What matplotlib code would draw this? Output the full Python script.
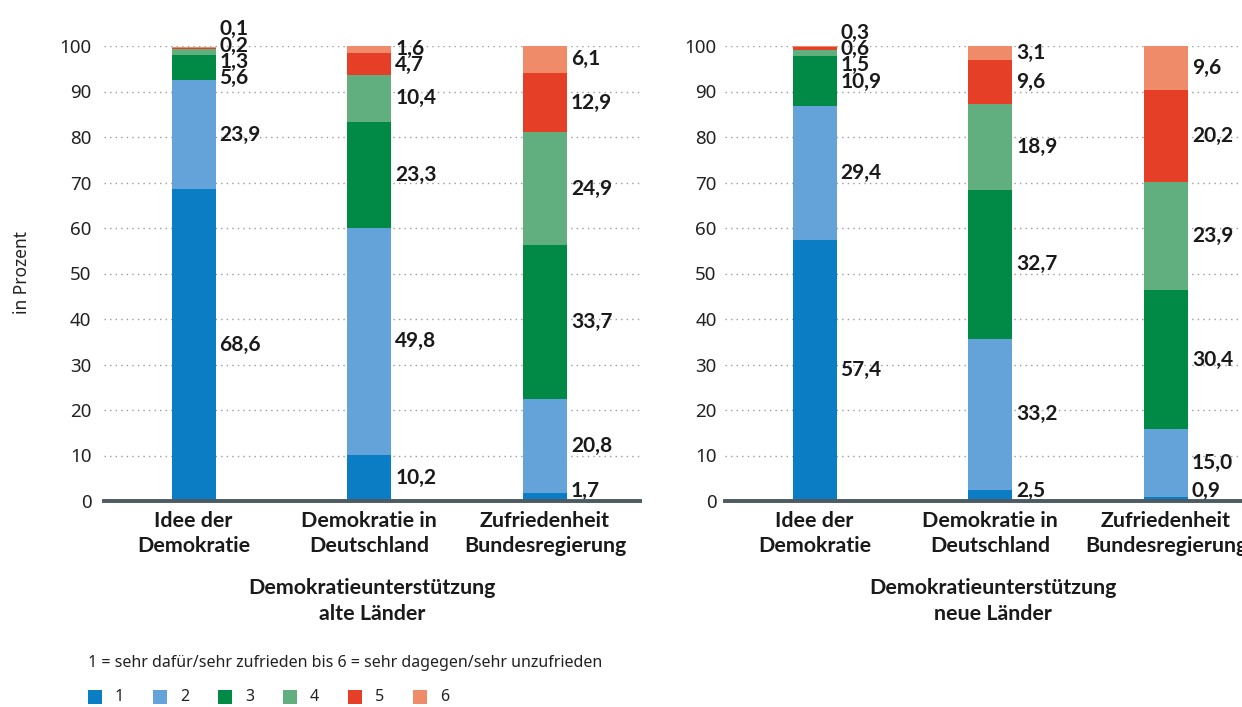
import matplotlib
matplotlib.use("Agg")
import matplotlib.pyplot as plt
from matplotlib.patches import Rectangle

plt.rcParams['font.family'] = ['Noto Sans', 'DejaVu Sans']
BOLD_FAM = ['Lato', 'DejaVu Sans']

# ---------------- data ----------------
categories = ["Idee der\nDemokratie", "Demokratie in\nDeutschland", "Zufriedenheit\nBundesregierung"]
levels = ["1", "2", "3", "4", "5", "6"]
colors = ["#0a7dc4", "#63a3d9", "#008a45", "#61ae7f", "#e54027", "#ef8b69"]

# shares per category, levels 1..6 (bottom to top)
alt_idee = [68.6, 23.9, 5.6, 1.3, 0.2, 0.1]
alt_demokratie = [10.2, 49.8, 23.3, 10.4, 4.7, 1.6]
alt_zufriedenheit = [1.7, 20.8, 33.7, 24.9, 12.9, 6.1]
neu_idee = [57.4, 29.4, 10.9, 1.5, 0.6, 0.3]
neu_demokratie = [2.5, 33.2, 32.7, 18.9, 9.6, 3.1]
neu_zufriedenheit = [0.9, 15.0, 30.4, 23.9, 20.2, 9.6]

panel_titles = ["Demokratieunterstützung\nalte Länder", "Demokratieunterstützung\nneue Länder"]
yticks = list(range(0, 101, 10))
caption = "1 = sehr dafür/sehr zufrieden bis 6 = sehr dagegen/sehr unzufrieden"

panels = [[alt_idee, alt_demokratie, alt_zufriedenheit],
          [neu_idee, neu_demokratie, neu_zufriedenheit]]

W, H = 1242, 707
fig = plt.figure(figsize=(W / 100, H / 100), dpi=100)

TXT = "#1a1a1a"
BAR_W = 0.25


def label_positions(vals, gap=3.6, floor=2.3):
    bottoms = []
    acc = 0.0
    for v in vals:
        bottoms.append(acc)
        acc += v
    targets = [max(b + v / 2, floor) for b, v in zip(bottoms, vals)]
    groups = [[t, 1, [i]] for i, t in enumerate(targets)]  # mean, count, idx
    changed = True
    while changed:
        changed = False
        for k in range(len(groups) - 1):
            g1, g2 = groups[k], groups[k + 1]
            top1 = g1[0] + (g1[1] - 1) / 2 * gap
            bot2 = g2[0] - (g2[1] - 1) / 2 * gap
            if bot2 - top1 < gap:
                n = g1[1] + g2[1]
                mean = (g1[0] * g1[1] + g2[0] * g2[1]) / n
                groups[k] = [mean, n, g1[2] + g2[2]]
                del groups[k + 1]
                changed = True
                break
    pos = [0] * len(vals)
    for mean, n, idx in groups:
        start = mean - (n - 1) / 2 * gap
        for j, i in enumerate(idx):
            pos[i] = start + j * gap
    lo = min(pos)
    if lo < floor:
        pos = [p + floor - lo for p in pos]
    return pos


axes_x = [104, 725]
ax_w = 536
y0_px, y100_px = 501, 46
for p, (xpx, data) in enumerate(zip(axes_x, panels)):
    ax = fig.add_axes([xpx / W, 1 - y0_px / H, ax_w / W, (y0_px - y100_px) / H])
    ax.set_xlim(-0.51, 2.54)
    ax.set_ylim(0, 100)
    for s in ax.spines.values():
        s.set_visible(False)
    for t in yticks[1:]:
        ax.axhline(t, color="#9a9a9a", lw=1.0, ls=(0, (1, 3)), zorder=0)
    xs = range(len(categories))
    for c, vals in enumerate(data):
        bottom = 0.0
        for lvl, v in enumerate(vals):
            ax.bar(c, v, bottom=bottom, width=BAR_W, color=colors[lvl], zorder=2, linewidth=0)
            bottom += v
        ypos = label_positions(vals)
        for v, yp in zip(vals, ypos):
            ax.text(c + BAR_W / 2 + 0.022, yp, f"{v:.1f}".replace(".", ","), ha="left", va="center",
                    fontsize=15, fontweight="bold", family=BOLD_FAM, color=TXT,
                    clip_on=False, zorder=3)
    ax.axhline(0, color="#4d5a62", lw=2.8, zorder=4, clip_on=False)
    ax.set_yticks(yticks)
    ax.set_yticklabels([str(t) for t in yticks], fontsize=13.5, color="#222222")
    ax.tick_params(axis="y", length=0, pad=9 if p == 0 else 6)
    ax.set_xticks(list(xs))
    ax.set_xticklabels(categories, fontsize=15.4, fontweight="bold", family=BOLD_FAM,
                       color=TXT, linespacing=1.3)
    ax.tick_params(axis="x", length=0, pad=7)
    cx = (xpx + ax_w / 2) / W
    fig.text(cx, 1 - 578 / H, panel_titles[p], ha="center", va="top", fontsize=15.4,
             fontweight="bold", family=BOLD_FAM, color=TXT, linespacing=1.4)

fig.text(22 / W, 1 - 273 / H, "in Prozent", rotation=90, ha="center", va="center",
         fontsize=12.5, color="#222222")

fig.text(88 / W, 1 - 663 / H, caption, ha="left", va="center", fontsize=11.5, color="#222222")
for k, (lab, col) in enumerate(zip(levels, colors)):
    x = 88 + 65 * k
    fig.patches.append(Rectangle((x / W, 1 - 704 / H), 14 / W, 14 / H, transform=fig.transFigure,
                                 facecolor=col, edgecolor="none"))
    fig.text((x + 27) / W, 1 - 697 / H, lab, ha="left", va="center", fontsize=11.5, color="#222222")

fig.savefig("out.png", dpi=100)
